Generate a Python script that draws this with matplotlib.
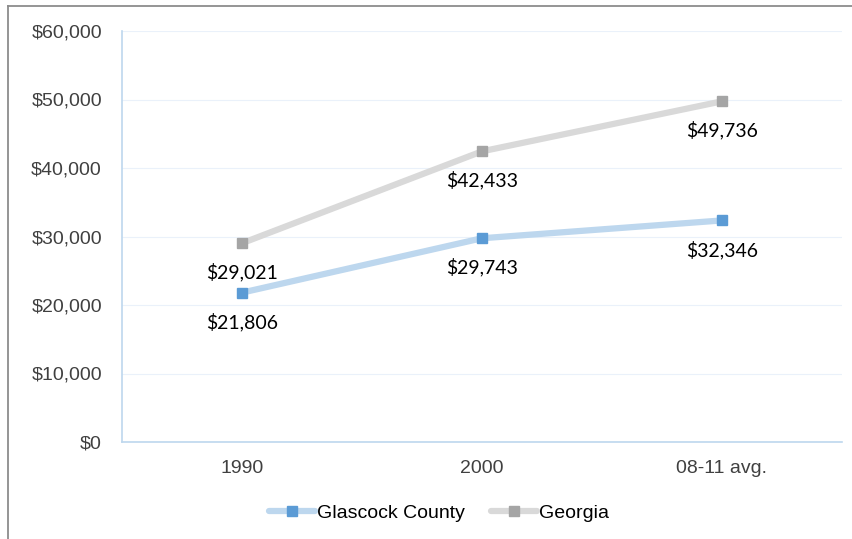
import matplotlib.pyplot as plt
from matplotlib.lines import Line2D

categories = ['1990', '2000', '08-11 avg.']
glascock = [21806, 29743, 32346]
georgia = [29021, 42433, 49736]
yticks = [0, 10000, 20000, 30000, 40000, 50000, 60000]

W, H = 853, 539
fig = plt.figure(figsize=(W / 100, H / 100), dpi=100)
ax = fig.add_axes([122 / W, 1 - 442 / H, 720 / W, 411 / H])

x = list(range(len(categories)))
series = [
    ('Glascock County', glascock, '#BDD7EE', '#5B9BD5'),
    ('Georgia', georgia, '#D9D9D9', '#A5A5A5'),
]
handles = []
for name, vals, lc, mc in series:
    ax.plot(x, vals, color=lc, lw=4.5, solid_capstyle='round', zorder=3)
    ax.plot(x, vals, ls='none', marker='s', ms=7.5, mfc=mc, mec=mc, zorder=4)
    for xi, v in zip(x, vals):
        ax.annotate(f'${v:,}', (xi, v), xytext=(0, -21), textcoords='offset points',
                    ha='center', va='center', fontsize=14, family='Lato', color='#000000')
    handles.append(Line2D([], [], color=lc, lw=4.5, marker='s', ms=7.5, mfc=mc, mec=mc,
                          solid_capstyle='round', label=name))

ax.set_xlim(-0.5, 2.5)
ax.set_ylim(0, 60000)
ax.set_yticks(yticks)
ax.set_yticklabels([f'${t:,}' for t in yticks])
ax.set_xticks(x)
ax.set_xticklabels(categories)
ax.grid(axis='y', color='#EAF1FA', lw=0.8)
ax.set_axisbelow(True)
for s in ['top', 'right']:
    ax.spines[s].set_visible(False)
for s in ['left', 'bottom']:
    ax.spines[s].set_color('#BDD7EE')
    ax.spines[s].set_linewidth(1.2)
ax.tick_params(length=0, labelsize=14, colors='#404040')
ax.tick_params(axis='x', pad=13)
ax.tick_params(axis='y', pad=14.5)
for lbl in ax.get_xticklabels() + ax.get_yticklabels():
    lbl.set_family('Liberation Sans')

leg = fig.legend(handles=handles, loc='center', bbox_to_anchor=(439 / W, 1 - 513 / H),
                 ncol=2, frameon=False, handlelength=2.4,
                 handletextpad=0.1, columnspacing=1.3, prop={'family': 'Liberation Sans', 'size': 14})

# outer border (cropped frame of the original chart)
fig.add_artist(Line2D([8 / W, 8 / W], [0, 1 - 6 / H], transform=fig.transFigure, color='#8C8C8C', lw=1.3))
fig.add_artist(Line2D([8 / W, 1], [1 - 6 / H, 1 - 6 / H], transform=fig.transFigure, color='#8C8C8C', lw=1.3))

fig.savefig('out.png', dpi=100, facecolor='white')
